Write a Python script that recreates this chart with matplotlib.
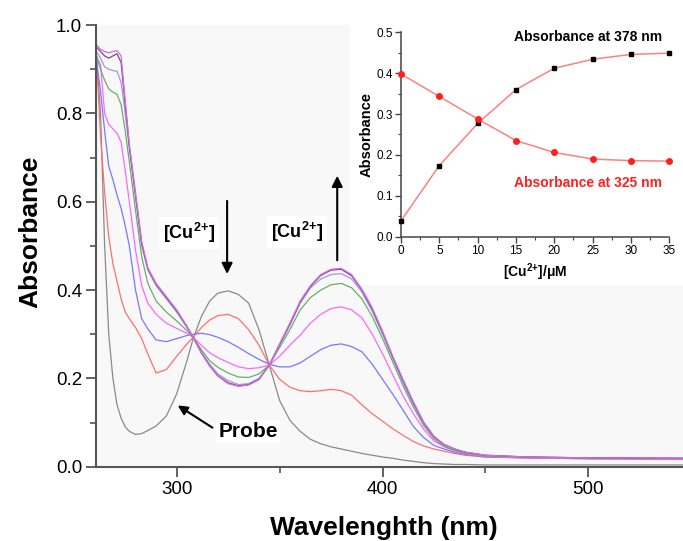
import matplotlib
matplotlib.use("Agg")
import matplotlib.pyplot as plt
from matplotlib.patches import Rectangle
from matplotlib.ticker import MultipleLocator

plt.rcParams['font.family'] = ['Liberation Sans', 'DejaVu Sans']
plt.rcParams['mathtext.fontset'] = 'custom'
plt.rcParams['mathtext.rm'] = 'Liberation Sans'
plt.rcParams['mathtext.bf'] = 'Liberation Sans:bold'
plt.rcParams['mathtext.it'] = 'Liberation Sans:italic'

# ---------------- data ----------------
wavelength = [261, 263, 265, 267, 269, 271, 273, 275, 277, 280, 283, 286, 290, 295,
              300, 305, 308, 312, 316, 320, 325, 330, 335, 340, 345, 350, 355, 360,
              365, 370, 375, 380, 385, 390, 395, 400, 405, 410, 415, 420, 425, 430,
              435, 440, 450, 470, 500, 546]

abs_probe = [0.93, 0.80, 0.50, 0.30, 0.20, 0.14, 0.11, 0.09, 0.08, 0.073, 0.075, 0.082, 0.092, 0.115,
             0.165, 0.24, 0.29, 0.34, 0.375, 0.393, 0.398, 0.39, 0.37, 0.31, 0.23, 0.15, 0.105, 0.08,
             0.062, 0.052, 0.045, 0.04, 0.035, 0.03, 0.026, 0.022, 0.019, 0.015, 0.012, 0.009, 0.007, 0.006,
             0.005, 0.005, 0.004, 0.004, 0.004, 0.004]
abs_5 = [0.93, 0.75, 0.62, 0.52, 0.46, 0.42, 0.38, 0.35, 0.335, 0.315, 0.29, 0.255, 0.212, 0.22,
         0.25, 0.278, 0.293, 0.315, 0.332, 0.342, 0.345, 0.335, 0.31, 0.275, 0.23, 0.198, 0.18, 0.172,
         0.17, 0.172, 0.175, 0.172, 0.162, 0.14, 0.12, 0.103, 0.086, 0.071, 0.057, 0.047, 0.04, 0.035,
         0.03, 0.026, 0.022, 0.02, 0.018, 0.017]
abs_10 = [0.92, 0.85, 0.76, 0.68, 0.65, 0.615, 0.585, 0.545, 0.50, 0.40, 0.335, 0.312, 0.287, 0.283,
          0.29, 0.297, 0.30, 0.302, 0.299, 0.293, 0.283, 0.27, 0.256, 0.243, 0.232, 0.226, 0.226, 0.235,
          0.25, 0.265, 0.275, 0.278, 0.272, 0.26, 0.232, 0.198, 0.164, 0.128, 0.091, 0.066, 0.048, 0.04,
          0.033, 0.028, 0.022, 0.02, 0.018, 0.017]
abs_15 = [0.93, 0.91, 0.80, 0.775, 0.765, 0.755, 0.735, 0.67, 0.60, 0.49, 0.41, 0.37, 0.345, 0.325,
          0.313, 0.302, 0.293, 0.275, 0.258, 0.247, 0.236, 0.226, 0.222, 0.224, 0.23, 0.25, 0.275, 0.298,
          0.325, 0.345, 0.358, 0.362, 0.355, 0.337, 0.30, 0.256, 0.208, 0.16, 0.12, 0.085, 0.058, 0.045,
          0.036, 0.03, 0.023, 0.02, 0.019, 0.018]
abs_20 = [0.93, 0.90, 0.875, 0.855, 0.848, 0.843, 0.82, 0.76, 0.69, 0.58, 0.475, 0.415, 0.375, 0.35,
          0.33, 0.308, 0.293, 0.265, 0.24, 0.225, 0.212, 0.203, 0.202, 0.21, 0.23, 0.27, 0.31, 0.355,
          0.383, 0.40, 0.412, 0.415, 0.405, 0.38, 0.34, 0.29, 0.237, 0.183, 0.135, 0.093, 0.063, 0.046,
          0.037, 0.031, 0.024, 0.021, 0.02, 0.019]
abs_25 = [0.94, 0.925, 0.905, 0.90, 0.897, 0.895, 0.87, 0.80, 0.72, 0.61, 0.50, 0.445, 0.41, 0.38,
          0.35, 0.315, 0.293, 0.26, 0.232, 0.21, 0.195, 0.186, 0.188, 0.20, 0.23, 0.275, 0.32, 0.37,
          0.405, 0.425, 0.435, 0.437, 0.425, 0.395, 0.352, 0.30, 0.245, 0.19, 0.14, 0.097, 0.066, 0.05,
          0.04, 0.033, 0.025, 0.022, 0.02, 0.019]
abs_30 = [0.95, 0.94, 0.93, 0.925, 0.93, 0.935, 0.915, 0.82, 0.725, 0.615, 0.505, 0.448, 0.413, 0.383,
          0.353, 0.317, 0.293, 0.258, 0.229, 0.206, 0.19, 0.183, 0.186, 0.198, 0.23, 0.277, 0.323, 0.373,
          0.408, 0.433, 0.445, 0.447, 0.432, 0.4, 0.357, 0.305, 0.248, 0.195, 0.145, 0.1, 0.068, 0.05,
          0.04, 0.033, 0.026, 0.022, 0.02, 0.019]
abs_35 = [0.955, 0.945, 0.94, 0.937, 0.94, 0.942, 0.93, 0.83, 0.73, 0.62, 0.51, 0.45, 0.415, 0.385,
          0.355, 0.318, 0.293, 0.257, 0.228, 0.205, 0.188, 0.182, 0.185, 0.197, 0.23, 0.278, 0.325, 0.375,
          0.41, 0.435, 0.447, 0.449, 0.435, 0.402, 0.36, 0.307, 0.25, 0.197, 0.147, 0.101, 0.069, 0.05,
          0.04, 0.033, 0.026, 0.022, 0.02, 0.019]

spectra = [abs_probe, abs_5, abs_10, abs_15, abs_20, abs_25, abs_30, abs_35]
colors = ['#8a8a8a', '#ff6f6f', '#7777ff', '#ff66ff', '#66b066', '#9a9ae8', '#8a3f9a', '#d070d0']

cu_conc = [0, 5, 10, 15, 20, 25, 30, 35]
abs378 = [0.039, 0.174, 0.277, 0.360, 0.412, 0.434, 0.446, 0.449]
abs325 = [0.398, 0.343, 0.288, 0.235, 0.206, 0.190, 0.186, 0.185]

main_xticks = [300, 400, 500]
main_yticks = [0.0, 0.2, 0.4, 0.6, 0.8, 1.0]
inset_xticks = [0, 5, 10, 15, 20, 25, 30, 35]
inset_yticks = [0.0, 0.1, 0.2, 0.3, 0.4, 0.5]

CU = r'[Cu$^{\mathbf{2}{\mathbf{+}}}$]'

# ---------------- figure ----------------
W, H = 683, 541
fig = plt.figure(figsize=(W / 100, H / 100), dpi=100)
fig.patch.set_facecolor('white')

ax = fig.add_axes([96 / W, (H - 466.7) / H, (W - 96) / W, (466.7 - 25) / H])
ax.set_facecolor('#f8f8f8')
ax.set_zorder(0)
# white backdrop behind inset (under the curves)
ax.add_patch(Rectangle((350 / W, 1 - 285 / H), (W - 350) / W, 275 / H,
                       transform=fig.transFigure, facecolor='white',
                       edgecolor='none', zorder=0.5))
for c, s in zip(colors, spectra):
    ax.plot(wavelength, s, color=c, lw=0.9, zorder=2)

ax.set_xlim(260.8, 546)
ax.set_ylim(0, 1.0)
ax.set_xticks(main_xticks)
ax.set_yticks(main_yticks)
ax.set_yticklabels([f'{v:.1f}' for v in main_yticks])
ax.xaxis.set_minor_locator(MultipleLocator(50))
ax.yaxis.set_minor_locator(MultipleLocator(0.1))
for sp in ['top', 'right']:
    ax.spines[sp].set_visible(False)
for sp in ['left', 'bottom']:
    ax.spines[sp].set_color('#555555')
    ax.spines[sp].set_linewidth(1.5)
ax.tick_params(which='major', direction='out', length=7, width=1.3, color='#555555',
               labelsize=13.5, pad=3)
ax.tick_params(which='minor', direction='out', length=4, width=1.2, color='#555555')

fig.text(30 / W, 1 - 232 / H, 'Absorbance', rotation=90, ha='center', va='center',
         fontsize=19, fontweight='bold')
fig.text(384 / W, 1 - 528 / H, 'Wavelenghth (nm)', ha='center', va='center',
         fontsize=19, fontweight='bold')

# annotations
ax.text(305.9, 0.529, CU, ha='center', va='center', fontsize=13,
        fontweight='bold', bbox=dict(facecolor='white', edgecolor='none', pad=3), zorder=3)
ax.text(358.4, 0.532, CU, ha='center', va='center', fontsize=13,
        fontweight='bold', bbox=dict(facecolor='white', edgecolor='none', pad=3), zorder=3)
ax.annotate('', xy=(324.5, 0.43), xytext=(324.5, 0.608),
            arrowprops=dict(arrowstyle='-|>', color='black', lw=1.5, mutation_scale=16))
ax.annotate('', xy=(378, 0.665), xytext=(378, 0.461),
            arrowprops=dict(arrowstyle='-|>', color='black', lw=1.5, mutation_scale=16))
ax.text(334.6, 0.079, 'Probe', ha='center', va='center', fontsize=15, fontweight='bold',
        bbox=dict(facecolor='white', edgecolor='none', pad=1.5), zorder=3)
ax.annotate('', xy=(299.4, 0.142), xytext=(318.5, 0.085),
            arrowprops=dict(arrowstyle='-|>', color='black', lw=1.5, mutation_scale=14))

ins = fig.add_axes([401 / W, (H - 236.7) / H, 268.3 / W, 204.4 / H])
ins.set_zorder(1)
ins.set_facecolor('white')
ins.plot(cu_conc, abs378, color='#ff8080', lw=1.1, zorder=1)
ins.plot(cu_conc, abs325, color='#ff8080', lw=1.1, zorder=1)
ins.plot(cu_conc, abs378, 's', color='black', ms=3.5, zorder=3, clip_on=False)
ins.plot(cu_conc, abs325, 'o', color='#ff2020', ms=4, zorder=3, clip_on=False)
ins.set_xlim(0, 35)
ins.set_ylim(0, 0.5)
ins.set_xticks(inset_xticks)
ins.set_yticks(inset_yticks)
ins.set_yticklabels([f'{v:.1f}' for v in inset_yticks])
ins.xaxis.set_minor_locator(MultipleLocator(2.5))
ins.yaxis.set_minor_locator(MultipleLocator(0.05))
for sp in ['top', 'right']:
    ins.spines[sp].set_visible(False)
for sp in ['left', 'bottom']:
    ins.spines[sp].set_color('#444444')
    ins.spines[sp].set_linewidth(1.1)
ins.tick_params(which='major', direction='out', length=4, width=1, color='#444444',
                labelsize=8.5, pad=2)
ins.tick_params(which='minor', direction='out', length=2, width=0.8, color='#444444')
ins.set_ylabel('Absorbance', fontsize=10.5, fontweight='bold', labelpad=2)
ins.set_xlabel(CU + '/μM', fontsize=10, fontweight='bold', labelpad=3)
ins.text(24.4, 0.4885, 'Absorbance at 378 nm', ha='center', va='center', fontsize=10,
         fontweight='bold', color='black')
ins.text(24.4, 0.131, 'Absorbance at 325 nm', ha='center', va='center', fontsize=10,
         fontweight='bold', color='#ff2020')

fig.savefig('out.png', dpi=100)
